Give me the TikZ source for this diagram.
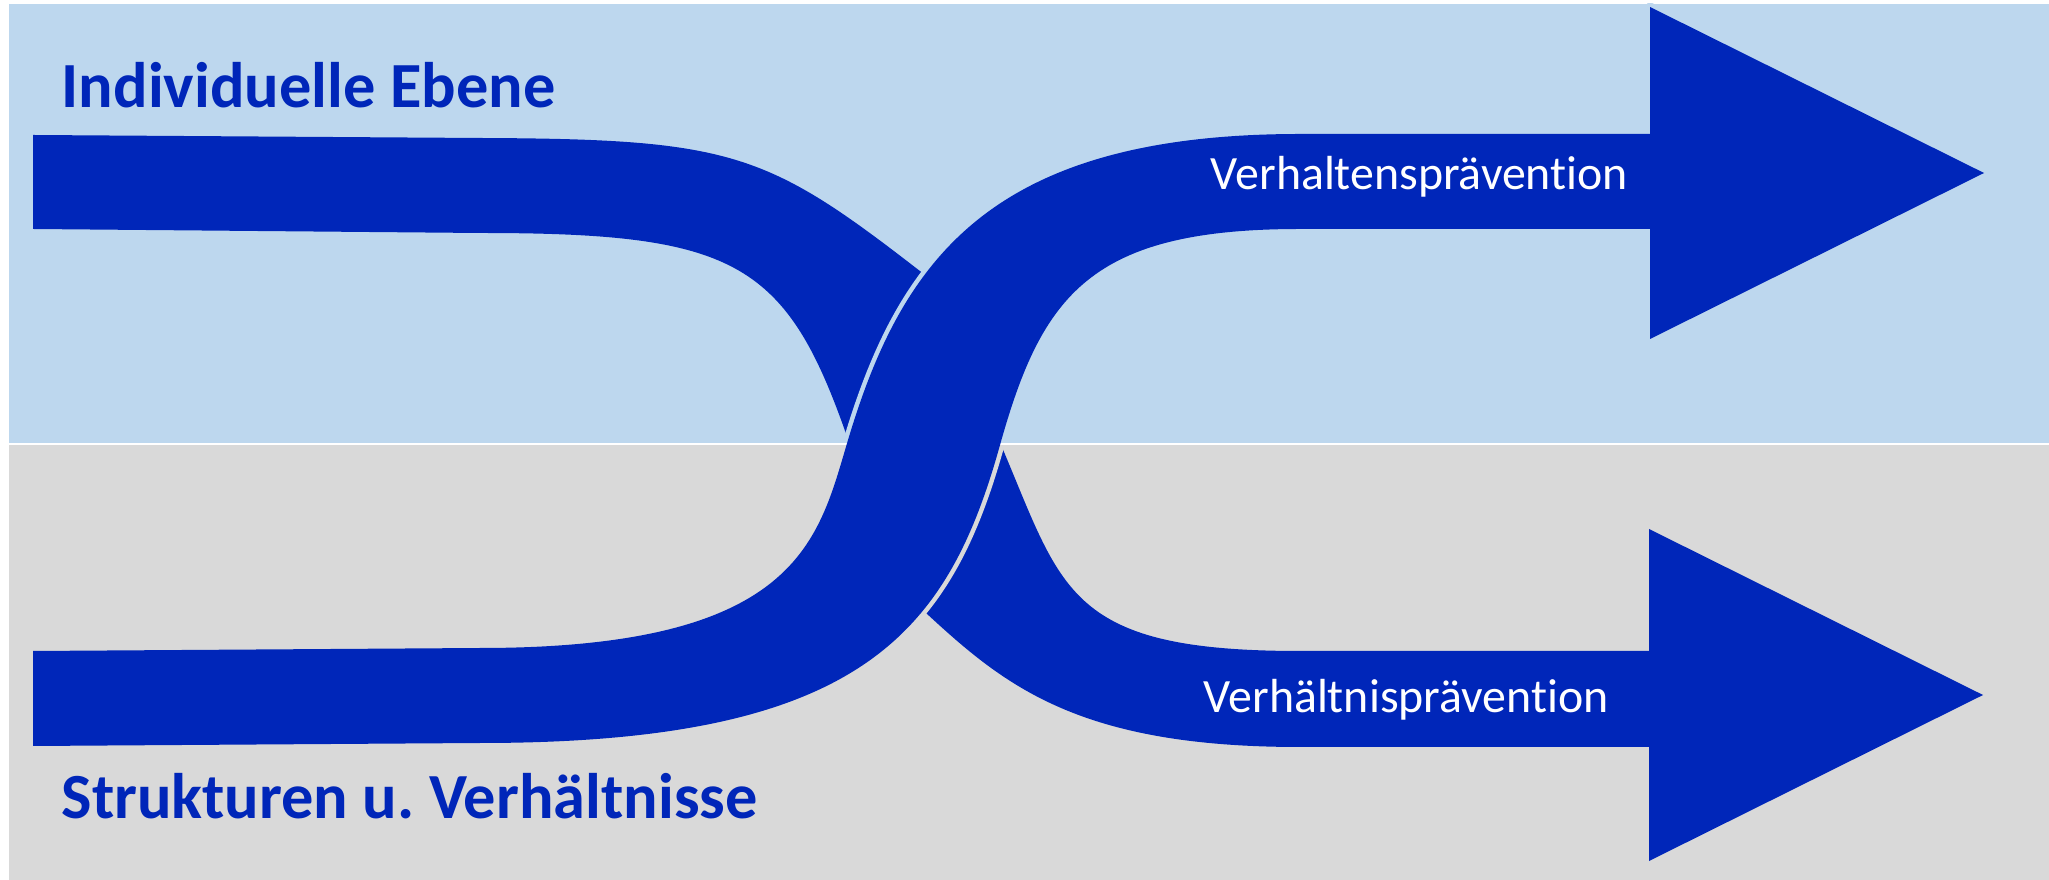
\documentclass[tikz,border=0pt]{standalone}
\usepackage{fontspec}
\setmainfont[Ligatures=NoCommon]{Carlito}
\usepackage{tikz}
\definecolor{ribbonblue}{RGB}{0,38,185}
\definecolor{indivbg}{HTML}{BDD7EE}
\definecolor{strukbg}{HTML}{D9D9D9}
\tikzset{
  ribbon/.style  = {fill=ribbonblue, draw=none},
  gapline/.style = {line width=0.09cm, line join=round},
  ebene/.style   = {font=\bfseries\fontsize{18.3}{21}\selectfont,
                    text=ribbonblue, inner sep=0pt, anchor=base west},
  praev/.style   = {font=\fontsize{13.6}{16}\selectfont, text=white,
                    inner sep=0pt, anchor=base west},
}
% outline of the ribbon that crosses from below to the upper arrow
\newcommand{\crossribbon}{(33,651) -- (480,648)
  .. controls (800,648) and (818,540) .. (848,440)
  .. controls (902,260) and (990,134) .. (1300,134) -- (1650,134)
  -- (1650,7) -- (1984,173) -- (1650,339) -- (1650,229) -- (1300,229)
  .. controls (1090,229) and (1042,295) .. (1000,445)
  .. controls (947,635) and (860,743) .. (480,743) -- (33,746) -- cycle}

\begin{document}
\begin{tikzpicture}[x=0.01cm, y=-0.01cm]
  \useasboundingbox (0,0) rectangle (2049,880);
  % the two levels
  \fill[indivbg] (9,4) rectangle (2049,444);
  \fill[strukbg] (9,444) rectangle (2049,880);
  \node[ebene] (indiv) at (61,108) {Individuelle Ebene};
  \node[ebene] (struk) at (61,818) {Strukturen u.\ Verhältnisse};
  % upper ribbon, runs into the crossing
  \fill[ribbon] (33,135) -- (480,138)
    .. controls (730,139) and (766,152) .. (916,268) -- (950,294)
    -- (856,462) -- (844,428)
    .. controls (784,260) and (730,233) .. (480,233) -- (33,229) -- cycle;
  % lower arrow, starts at the crossing
  \fill[ribbon] (989,417) -- (1004,452)
    .. controls (1063,592) and (1070,651) .. (1300,651) -- (1649,651)
    -- (1649,529) -- (1983,695) -- (1649,861) -- (1649,747) -- (1300,747)
    .. controls (1080,747) and (1006,687) .. (926,613) -- (903,590) -- cycle;
  % thin gap round the crossing ribbon
  \foreach \ytop/\ybot/\bg in {4/444/indivbg, 444/880/strukbg} {
    \begin{scope}
      \clip (9,\ytop) rectangle (2049,\ybot);
      \draw[gapline, draw=\bg] \crossribbon;
    \end{scope}
  }
  \draw[white, line width=0.02cm] (9,444) -- (2049,444);
  \fill[ribbon] \crossribbon;
  \node[praev] (verhalten) at (1210,190) {Verhaltensprävention};
  \node[praev] (verhaeltnis) at (1203,713) {Verhältnisprävention};
\end{tikzpicture}
\end{document}
